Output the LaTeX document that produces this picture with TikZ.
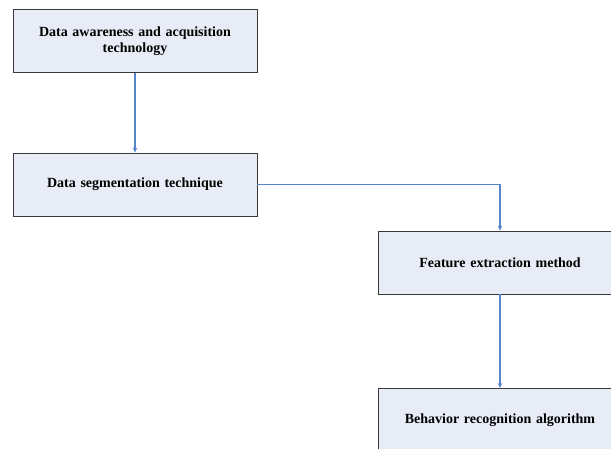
\documentclass[tikz,border=0pt]{standalone}
\usepackage{fontspec}
\setmainfont{Liberation Serif}
\usetikzlibrary{arrows.meta}
\definecolor{boxfill}{HTML}{E7ECF6}
\definecolor{boxline}{HTML}{3A3A3A}
\definecolor{flow}{HTML}{5585CB}
\begin{document}
\begin{tikzpicture}[x=1pt, y=-1pt, >={Stealth[length=5pt,width=4.5pt]},
    stagebox/.style={draw=boxline, fill=boxfill, line width=0.9pt,
        minimum width=244pt, minimum height=63pt, inner sep=0pt,
        align=center, text width=230pt,
        font=\fontsize{14}{15.5}\selectfont\bfseries},
    flowline/.style={draw=flow, line width=1.2pt, ->}]
    % Rahmen des Bildes
    \useasboundingbox (0,0) rectangle (611,448);
    \clip (0,0) rectangle (611,448);

    % Stufen
    \node[stagebox] (acq) at (135,41) {Data awareness and acquisition\\technology};
    \node[stagebox] (seg) at (135,184.5) {Data segmentation technique};
    \node[stagebox] (feat) at (500,262.5) {Feature extraction method};
    \node[stagebox] (recog) at (500,420) {Behavior recognition algorithm};

    % Verbindungen
    \draw[flowline] (acq) -- (seg);
    \draw[flowline] (seg.east) -| (feat.north);
    \draw[flowline] (feat) -- (recog);
\end{tikzpicture}
\end{document}
